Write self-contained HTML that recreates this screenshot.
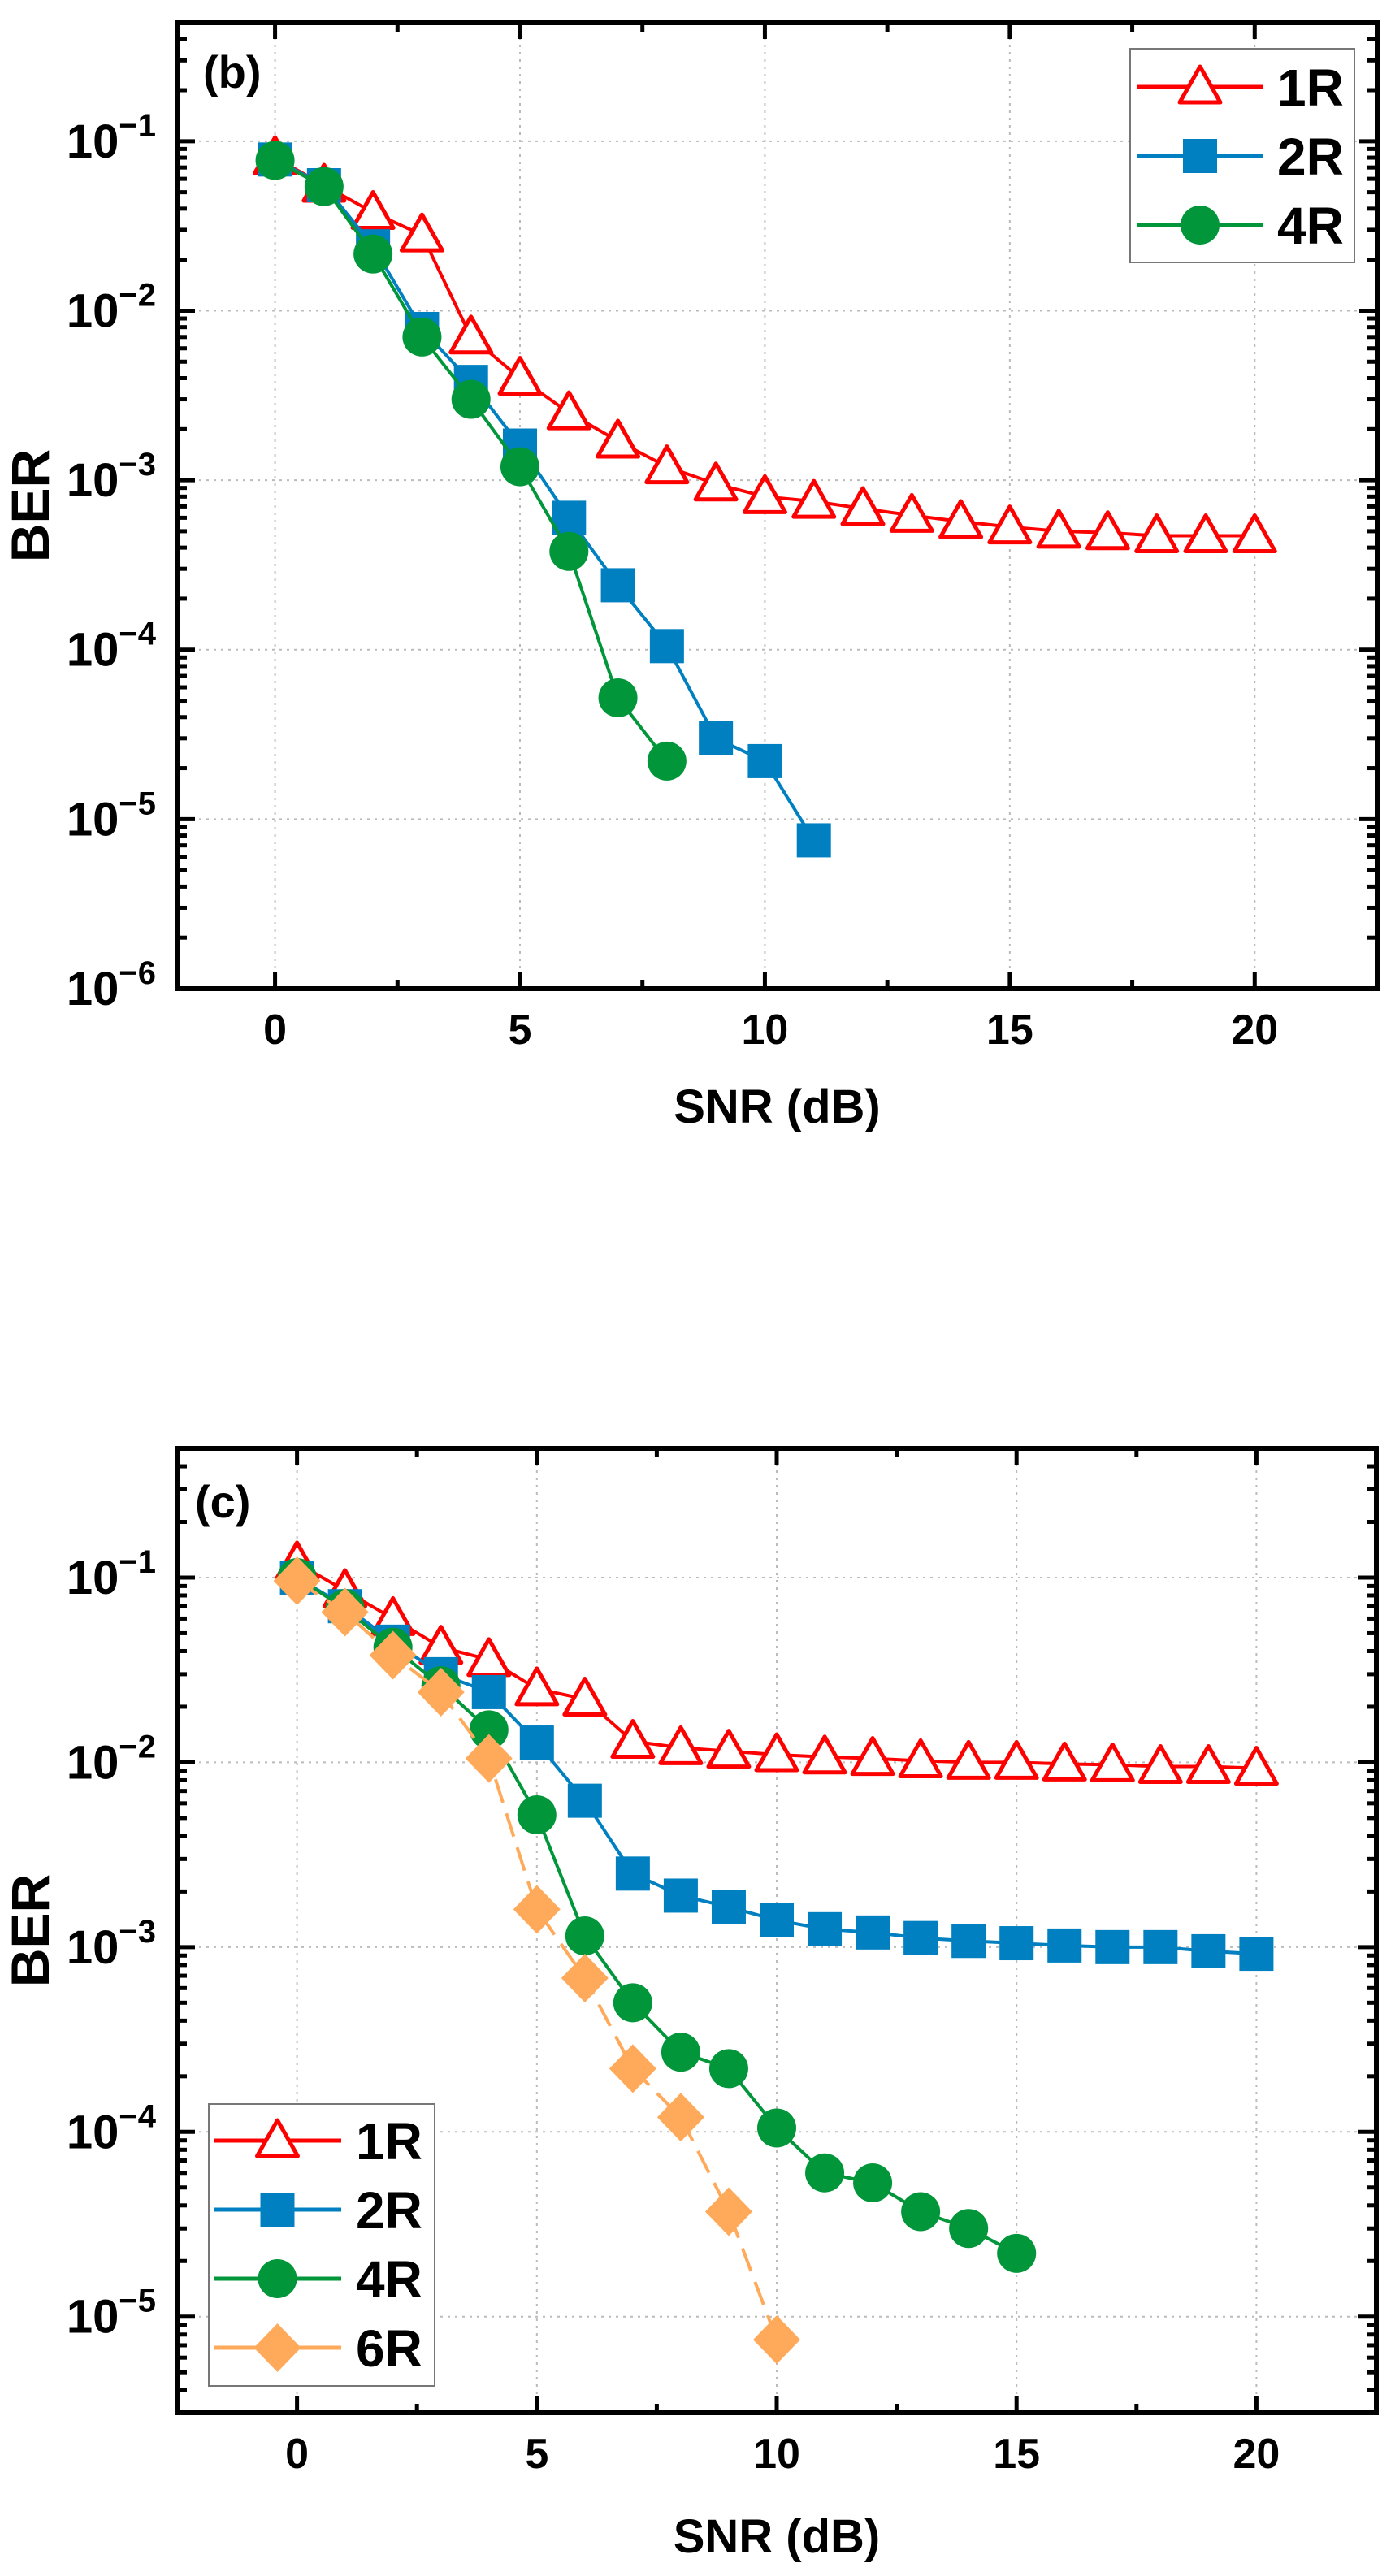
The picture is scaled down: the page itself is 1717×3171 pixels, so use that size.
<!DOCTYPE html>
<html><head><meta charset="utf-8">
<style>
html,body{margin:0;padding:0;background:#fff;}
svg{display:block;font-family:"Liberation Sans",Arial,sans-serif;font-weight:bold;}
</style></head>
<body>
<svg id="fig" width="1717" height="3171" viewBox="0 0 1717 3171" xmlns="http://www.w3.org/2000/svg"></svg>
<script>
// ---------- data ----------
const snrB = [0,1,2,3,4,5,6,7,8,9,10,11,12,13,14,15,16,17,18,19,20];
const b1R = [0.08,0.055,0.038,0.028,0.007,0.004,0.0025,0.0017,0.0012,0.00095,0.0008,0.00075,0.00068,0.00062,0.00057,0.00053,0.0005,0.00049,0.00047,0.00047,0.00047];
const b2R = [0.078,0.055,0.024,0.0078,0.0038,0.0016,0.0006,0.00024,0.000105,3e-5,2.2e-5,7.5e-6];
const b4R = [0.077,0.054,0.0216,0.007,0.003,0.0012,0.00038,5.2e-5,2.2e-5];

const snrC = [0,1,2,3,4,5,6,7,8,9,10,11,12,13,14,15,16,17,18,19,20];
const c1R = [0.12,0.085,0.06,0.042,0.036,0.025,0.022,0.013,0.012,0.0115,0.011,0.0107,0.0105,0.0102,0.01,0.01,0.0098,0.0097,0.0095,0.0095,0.0093];
const c2R = [0.1,0.07,0.045,0.03,0.024,0.0128,0.0062,0.0025,0.0019,0.00165,0.0014,0.00125,0.0012,0.00112,0.00108,0.00105,0.00102,0.001,0.001,0.00095,0.00092];
const c4R = [0.1,0.068,0.042,0.026,0.015,0.0052,0.00115,0.0005,0.00027,0.00022,0.000105,6e-5,5.3e-5,3.7e-5,3e-5,2.2e-5];
const c6R = [0.096,0.065,0.038,0.024,0.0105,0.0016,0.00068,0.00022,0.00012,3.7e-5,7.5e-6];

const xTickLabels = ["0","5","10","15","20"];
const xTickValues = [0,5,10,15,20];
const seriesNames = ["1R","2R","4R","6R"];
const bYExps = [-1,-2,-3,-4,-5,-6];
const cYExps = [-1,-2,-3,-4,-5];

// ---------- drawing ----------
const NS = "http://www.w3.org/2000/svg";
const svg = document.getElementById('fig');
function el(tag, attrs, parent){
  const e = document.createElementNS(NS, tag);
  for (const k in attrs) e.setAttribute(k, attrs[k]);
  (parent||svg).appendChild(e);
  return e;
}
const COL = {"1R":"#ff0000","2R":"#0080c0","4R":"#009639","6R":"#ffaa5a"};
const DASH = {"1R":"none","2R":"none","4R":"none","6R":"30,14"};

function marker(g, name, x, y){
  let m;
  if (name==="1R"){
    m = el('polygon',{points:`${x},${y-25} ${x+25},${y+19} ${x-25},${y+19}`,fill:'#fff',stroke:COL[name],'stroke-width':5,'stroke-linejoin':'round'},g);
  } else if (name==="2R"){
    m = el('rect',{x:x-21,y:y-21,width:42,height:42,fill:COL[name]},g);
  } else if (name==="4R"){
    m = el('ellipse',{cx:x,cy:y,rx:24,ry:24,fill:COL[name]},g);
  } else {
    m = el('polygon',{points:`${x},${y-30} ${x+29},${y} ${x},${y+30} ${x-29},${y}`,fill:COL[name]},g);
  }
  return m;
}

function drawChart(cfg){
  const {L,R,T,B,xmin,xmax,ymaxLog,yminLog,xs,series,exps,panel,legend,id} = cfg;
  const X = v => L + (v - xmin) / (xmax - xmin) * (R - L);
  const Y = v => T + (ymaxLog - Math.log10(v)) / (ymaxLog - yminLog) * (B - T);
  const g = el('g',{});
  
  

  // grid
  const grid = el('g',{stroke:'#bbb','stroke-width':2,'stroke-dasharray':'3,6'},g);
  
  
  xTickValues.forEach(v => el('line',{x1:X(v),x2:X(v),y1:T,y2:B},grid));
  exps.forEach(e => el('line',{x1:L,x2:R,y1:Y(Math.pow(10,e)),y2:Y(Math.pow(10,e))},grid));

  // series
  series.forEach(s => {
    const sg = el('g',{},g);
    
    
    const pts = s.vals.map((v,i)=>`${X(xs[i])},${Y(v)}`).join(' ');
    const attrs = {points:pts,fill:'none',stroke:COL[s.name],'stroke-width':4};
    if (DASH[s.name] !== 'none') attrs['stroke-dasharray'] = DASH[s.name];
    el('polyline',attrs,sg);
    s.vals.forEach((v,i)=>{
      const m = marker(sg, s.name, X(xs[i]), Y(v));
      
      
    });
  });

  // ticks
  const tk = el('g',{stroke:'#000','stroke-width':5},g);
  
  
  for (let v = Math.ceil(xmin/2.5)*2.5; v <= xmax+1e-9; v += 2.5){
    const major = Math.abs(v % 5) < 1e-9;
    const len = major ? 20 : 11;
    el('line',{x1:X(v),x2:X(v),y1:B,y2:B-len},tk);
    el('line',{x1:X(v),x2:X(v),y1:T,y2:T+len},tk);
  }
  for (let e = Math.floor(ymaxLog); e >= Math.floor(yminLog); e--){
    for (let k = 1; k <= 9; k++){
      const v = k*Math.pow(10,e);
      const lv = Math.log10(v);
      if (lv > ymaxLog+1e-9 || lv < yminLog-1e-9) continue;
      const len = k===1 ? 22 : 12;
      el('line',{x1:L,x2:L+len,y1:Y(v),y2:Y(v)},tk);
      el('line',{x1:R,x2:R-len,y1:Y(v),y2:Y(v)},tk);
    }
  }
  // frame
  const fr = el('rect',{x:L,y:T,width:R-L,height:B-T,fill:'none',stroke:'#000','stroke-width':6},g);
  
  

  // tick labels
  xTickValues.forEach((v,i)=>{
    const t = el('text',{x:X(v),y:B+68,'text-anchor':'middle','font-size':52},g);
    t.textContent = xTickLabels[i];
    
    
  });
  exps.forEach(e=>{
    const y = Y(Math.pow(10,e));
    const t = el('text',{x:192,y:y+20,'text-anchor':'end','font-size':58},g);
    
    
    const a = el('tspan',{},t); a.textContent = '10';
    const b = el('tspan',{dy:-26,'font-size':40}); b.textContent = '\u2212' + (-e);
    t.appendChild(b);
  });

  // axis titles
  const xt = el('text',{x:(L+R)/2,y:cfg.xTitleY,'text-anchor':'middle','font-size':58},g);
  xt.textContent = 'SNR (dB)';
  
  
  const cy = (T+B)/2;
  const yt = el('text',{x:60,y:cy,'text-anchor':'middle','font-size':66,transform:`rotate(-90 60 ${cy})`},g);
  yt.textContent = 'BER';
  
  

  // panel label
  const pl = el('text',{x:panel.x,y:panel.y,'font-size':56},g);
  pl.textContent = panel.text;
  
  

  // legend
  const lg = el('g',{},g);
  
  
  el('rect',{x:legend.x,y:legend.y,width:legend.w,height:legend.h,fill:'#fff',stroke:'#777','stroke-width':2},lg);
  legend.names.forEach((n,i)=>{
    const ry = legend.y0 + i*legend.dy;
    const eg = el('g',{},lg);
    
    
    el('line',{x1:legend.lx1,x2:legend.lx2,y1:ry,y2:ry,stroke:COL[n],'stroke-width':5},eg);
    marker(eg, n, (legend.lx1+legend.lx2)/2, ry);
    const t = el('text',{x:legend.tx,y:ry+23,'font-size':64},eg);
    t.textContent = n;
  });
}

drawChart({
  id:'b', L:218, R:1695, T:28, B:1217, xmin:-2, xmax:22.5, ymaxLog:Math.log10(0.5), yminLog:-6,
  xs:snrB, exps:bYExps, xTitleY:1382,
  series:[{name:'1R',vals:b1R},{name:'2R',vals:b2R},{name:'4R',vals:b4R}],
  panel:{text:'(b)',x:250,y:108},
  legend:{x:1391,y:60,w:276,h:263,names:seriesNames.slice(0,3),y0:107,dy:85,lx1:1399,lx2:1555,tx:1572}
});
drawChart({
  id:'c', L:218, R:1694, T:1783, B:2970, xmin:-2.5, xmax:22.5, ymaxLog:Math.log10(0.5), yminLog:-5.52,
  xs:snrC, exps:cYExps, xTitleY:3142,
  series:[{name:'1R',vals:c1R},{name:'2R',vals:c2R},{name:'4R',vals:c4R},{name:'6R',vals:c6R}],
  panel:{text:'(c)',x:240,y:1868},
  legend:{x:257,y:2590,w:278,h:347,names:seriesNames,y0:2635,dy:85,lx1:263,lx2:420,tx:438}
});
</script>
</body></html>
